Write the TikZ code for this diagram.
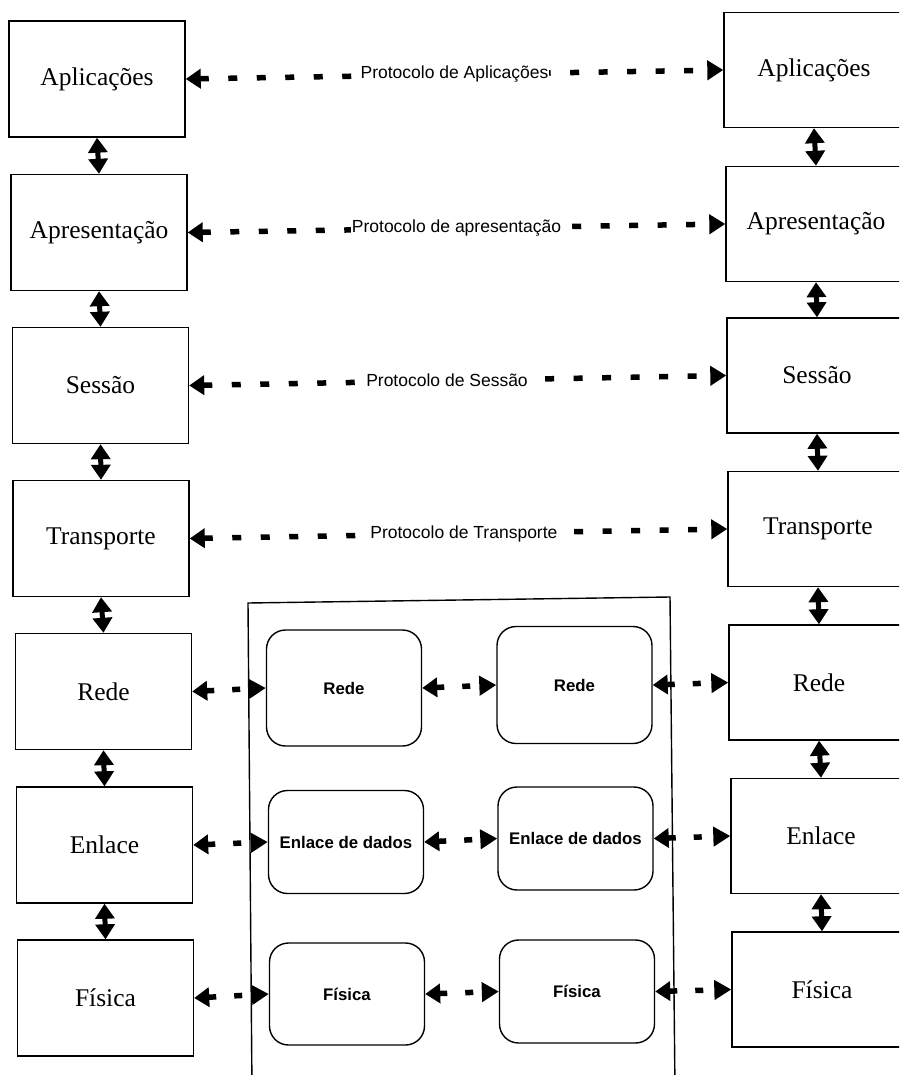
\documentclass[tikz,border=0pt]{standalone}
\usepackage{fontspec}
\setmainfont{Liberation Serif}
\setsansfont{Liberation Sans}
\usetikzlibrary{arrows.meta}

\tikzset{
  layer/.style={draw, line width=1.4pt, rectangle, minimum width=176pt,
    minimum height=116pt, inner sep=0pt,
    font=\fontsize{25.5}{30}\selectfont\rmfamily},
  layerR/.style={layer, minimum width=180pt, minimum height=115pt},
  relay/.style={draw, line width=1.4pt, rectangle, rounded corners=19pt,
    minimum width=155pt, inner sep=0pt,
    font=\fontsize{16.8}{20}\selectfont\sffamily\bfseries},
  peer/.style={line width=5.5pt, dash pattern=on 9pt off 19.5pt,
    {Triangle[length=15pt,width=19pt]}-{Triangle[length=16pt,width=19pt]}},
  hop/.style={line width=5.5pt, dash pattern=on 8pt off 18pt,
    {Triangle[length=15pt,width=19pt]}-{Triangle[length=17pt,width=19pt]}},
  stack/.style={line width=5pt,
    {Triangle[length=15pt,width=19pt]}-{Triangle[length=15pt,width=19pt]}},
  plabel/.style={fill=white, inner xsep=1pt, inner ysep=4pt,
    font=\fontsize{17.5}{20}\selectfont\sffamily}
}

\begin{document}
\begin{tikzpicture}[x=1pt,y=-1pt]
  \useasboundingbox (0,0) rectangle (899,1075);
  \clip (0,0) rectangle (899,1075);

  % host A protocol stack
  \node[layer] (a1) at (97,79)    {Aplicações};
  \node[layer] (a2) at (99,232.5) {Apresentação};
  \node[layer] (a3) at (100.5,385.5) {Sessão};
  \node[layer] (a4) at (101,538.5) {Transporte};
  \node[layer] (a5) at (103.5,691.5) {Rede};
  \node[layer] (a6) at (104.5,845) {Enlace};
  \node[layer] (a7) at (105.5,998) {Física};

  % host B protocol stack
  \node[layerR] (b1) at (814,70)    {Aplicações};
  \node[layerR] (b2) at (816,224)   {Apresentação};
  \node[layerR] (b3) at (817,375.5) {Sessão};
  \node[layerR] (b4) at (818,529)   {Transporte};
  \node[layerR] (b5) at (819,682.5) {Rede};
  \node[layerR] (b6) at (821,836)   {Enlace};
  \node[layerR] (b7) at (822,989.5) {Física};

  % intermediate subnet
  \coordinate (fbl) at (252,1090);
  \coordinate (ftl) at (248,603);
  \coordinate (ftr) at (670,597);
  \coordinate (fbr) at (675,1090);
  \draw[line width=1.4pt] (fbl) -- (ftl) -- (ftr) -- (fbr);

  \node[relay, minimum height=116pt] (m1) at (344,688) {Rede};
  \node[relay, minimum height=103pt] (m2) at (346,842) {Enlace de dados};
  \node[relay, minimum height=102pt] (m3) at (347,994) {Física};
  \node[relay, minimum height=117pt] (n1) at (574.5,685) {Rede};
  \node[relay, minimum height=103pt] (n2) at (575.5,838.5) {Enlace de dados};
  \node[relay, minimum height=103pt] (n3) at (577,991.5) {Física};

  % vertical interfaces inside each stack
  \foreach \u/\l in {1/2,2/3,3/4,4/5,5/6,6/7} {
    \draw[stack] (a\u.south) -- (a\l.north);
    \draw[stack] (b\u.south) -- (b\l.north);
  }

  % peer-to-peer protocols
  \draw[peer] (a1.east) -- node[plabel, pos=0.5] {Protocolo de Aplicações} (b1.west);
  \draw[peer] (a2.east) -- node[plabel, pos=0.5] {Protocolo de apresentação} (b2.west);
  \draw[peer] (a3.east) -- node[plabel, pos=0.48] {Protocolo de Sessão} (b3.west);
  \draw[peer] (a4.east) -- node[plabel, pos=0.51] {Protocolo de Transporte} (b4.west);

  % hop-by-hop links through the subnet
  \foreach \k in {1,2,3} {
    \pgfmathtruncatemacro{\s}{\k+4}
    \draw[hop] (a\s.east) -- (m\k.west);
    \draw[hop] (m\k.east) -- (n\k.west);
    \draw[hop] (n\k.east) -- (b\s.west);
  }
\end{tikzpicture}
\end{document}
